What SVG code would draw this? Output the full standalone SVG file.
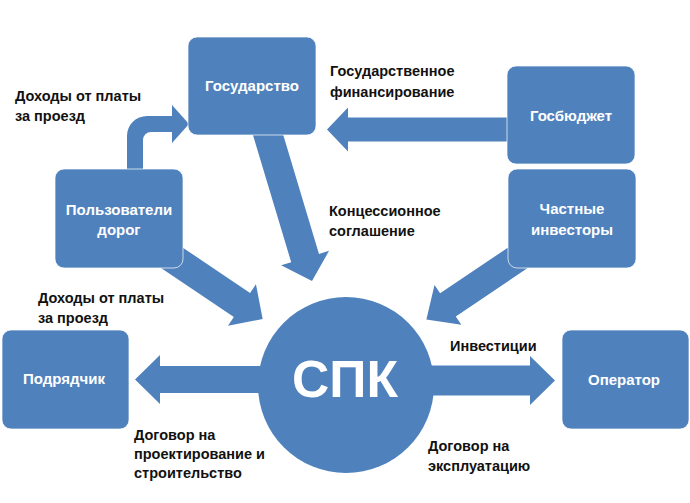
<svg xmlns="http://www.w3.org/2000/svg" width="690" height="503" viewBox="0 0 690 503">
<style>
.box{fill:#4F81BD;stroke:#ffffff;stroke-opacity:0.7;stroke-width:1}
.arr{fill:#4F81BD}
.bt{font-family:"Liberation Sans",Arial,sans-serif;font-weight:bold;font-size:15px;fill:#ffffff;text-anchor:middle}
.lb{font-family:"Liberation Sans",Arial,sans-serif;font-weight:bold;font-size:14.5px;fill:#111111}
.big{font-family:"Liberation Sans",Arial,sans-serif;font-weight:bold;font-size:52px;fill:#ffffff;text-anchor:middle}
</style>
<rect width="690" height="503" fill="#ffffff"/>
<g id="connectors">
  <path class="arr" d="M127,172 V136 A20,20 0 0 1 147,116 H172 V105 L189,124 L172,143 V132 H151 A8,8 0 0 0 143,140 V172 Z"/>
  <path class="arr" d="M515,117.5 H348 V107.5 L327,129.5 L348,151.5 V141.5 H515 Z"/>
  <path class="arr" transform="translate(266,128) rotate(73.27)" d="M0,-14.5 H135.8 V-25 L159.8,0 L135.8,25 V14.5 H0 Z"/>
  <path class="arr" transform="translate(163.2,251.9) rotate(34)" d="M0,-14.5 H95 V-25 L120,0 L95,25 V14.5 H0 Z"/>
  <path class="arr" transform="translate(538.3,244) rotate(146)" d="M0,-14 H109 V-24 L135,0 L109,24 V14 H0 Z"/>
  <path class="arr" d="M300,366 H160 V355 L135,379.5 L160,404 V393 H300 Z"/>
  <path class="arr" d="M400,365.5 H530 V356 L555,380.5 L530,405 V395.5 H400 Z"/>
</g>
<g id="spk">
  <circle cx="346" cy="385" r="88" fill="#4F81BD"/>
  <text class="big" x="345" y="397" textLength="106" lengthAdjust="spacingAndGlyphs">СПК</text>
</g>
<g id="gosudarstvo">
  <rect class="box" x="188" y="37" width="128" height="98" rx="9"/>
  <text class="bt" x="252" y="91">Государство</text>
</g>
<g id="polzovateli">
  <rect class="box" x="55" y="169" width="128" height="99" rx="9"/>
  <text class="bt" x="119" y="215">Пользователи</text>
  <text class="bt" x="119" y="235">дорог</text>
</g>
<g id="gosbudget">
  <rect class="box" x="507" y="66" width="128" height="98" rx="9"/>
  <text class="bt" x="571" y="121">Госбюджет</text>
</g>
<g id="investory">
  <rect class="box" x="508" y="169" width="128" height="99" rx="9"/>
  <text class="bt" x="572" y="214">Частные</text>
  <text class="bt" x="572" y="235">инвесторы</text>
</g>
<g id="podryadchik">
  <rect class="box" x="2" y="330" width="127" height="99" rx="9"/>
  <text class="bt" x="64" y="384">Подрядчик</text>
</g>
<g id="operator">
  <rect class="box" x="562" y="330" width="127" height="99" rx="9"/>
  <text class="bt" x="624" y="385">Оператор</text>
</g>
<g id="labels">
  <text class="lb" x="15" y="101">Доходы от платы</text>
  <text class="lb" x="15" y="121">за проезд</text>
  <text class="lb" x="330" y="76">Государственное</text>
  <text class="lb" x="330" y="97">финансирование</text>
  <text class="lb" x="329" y="216">Концессионное</text>
  <text class="lb" x="329" y="236">соглашение</text>
  <text class="lb" x="38" y="303">Доходы от платы</text>
  <text class="lb" x="38" y="323">за проезд</text>
  <text class="lb" x="134" y="440">Договор на</text>
  <text class="lb" x="134" y="459">проектирование и</text>
  <text class="lb" x="134" y="478">строительство</text>
  <text class="lb" x="450" y="351">Инвестиции</text>
  <text class="lb" x="428" y="451">Договор на</text>
  <text class="lb" x="428" y="471">эксплуатацию</text>
</g>
</svg>
